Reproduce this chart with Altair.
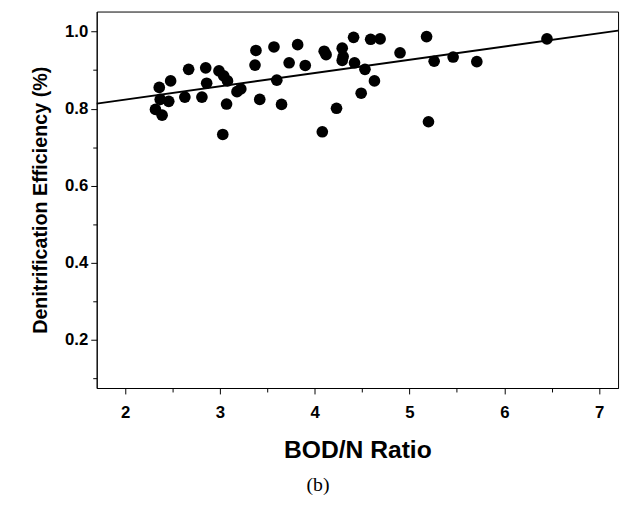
import altair as alt
import pandas as pd

# BOD/N ratio vs denitrification efficiency
bod_n = [2.36, 2.48, 2.67, 2.85, 2.99, 3.04, 3.08, 2.86, 2.37, 2.46, 2.63, 2.81,
         2.32, 2.39, 3.07, 3.03, 3.18, 3.22, 3.38, 3.57, 3.82, 4.10, 4.12, 4.29,
         4.30, 4.29, 3.37, 3.73, 3.90, 3.60, 3.42, 3.65, 4.23, 4.08, 4.41, 4.59,
         4.69, 5.18, 4.42, 4.53, 4.90, 5.26, 4.63, 4.49, 5.20, 5.46, 5.71, 6.45]
efficiency = [0.855, 0.872, 0.902, 0.906, 0.898, 0.885, 0.872, 0.866, 0.824, 0.819,
              0.830, 0.830, 0.798, 0.783, 0.812, 0.733, 0.844, 0.851, 0.951, 0.960,
              0.966, 0.949, 0.940, 0.957, 0.935, 0.925, 0.913, 0.919, 0.912, 0.874,
              0.824, 0.811, 0.801, 0.740, 0.985, 0.980, 0.981, 0.987, 0.919, 0.902,
              0.945, 0.923, 0.872, 0.840, 0.766, 0.934, 0.922, 0.981]

# fitted regression line endpoints
fit_x = [1.70, 7.20]
fit_y = [0.813, 1.0025]

x_ticks = [2, 2.5, 3, 3.5, 4, 4.5, 5, 5.5, 6, 6.5, 7]
y_ticks = [0.1, 0.2, 0.3, 0.4, 0.5, 0.6, 0.7, 0.8, 0.9, 1.0]

pts = pd.DataFrame({"x": bod_n, "y": efficiency})
fit = pd.DataFrame({"x": fit_x, "y": fit_y})

FONT = "Liberation Sans"

x_scale = alt.Scale(domain=[1.70, 7.20], nice=False, zero=False)
y_scale = alt.Scale(domain=[0.075, 1.052], nice=False, zero=False)

x_axis = alt.Axis(
    title="BOD/N Ratio", values=x_ticks, grid=False,
    labelExpr="datum.value % 1 === 0 ? format(datum.value, 'd') : ''",
    tickSize={"condition": {"test": "datum.value % 1 === 0", "value": 6}, "value": 4},
    labelPadding=11, titlePadding=18,
    labelFont=FONT, labelFontSize=17, labelFontWeight="bold", labelColor="black",
    titleFont=FONT, titleFontSize=25, titleFontWeight="bold", titleColor="black",
    domainColor="black", tickColor="black",
)
y_axis = alt.Axis(
    title="Denitrification Efficiency (%)", values=y_ticks, grid=False,
    labelExpr="round(datum.value * 10) % 2 === 0 ? format(datum.value, '.1f') : ''",
    tickSize={"condition": {"test": "round(datum.value * 10) % 2 === 0", "value": 6}, "value": 4},
    labelPadding=3, titlePadding=14,
    labelFont=FONT, labelFontSize=17, labelFontWeight="bold", labelColor="black",
    titleFont=FONT, titleFontSize=20, titleFontWeight="bold", titleColor="black",
    domainColor="black", tickColor="black",
)

points = alt.Chart(pts).mark_circle(size=140, color="black", opacity=1).encode(
    x=alt.X("x:Q", scale=x_scale, axis=x_axis),
    y=alt.Y("y:Q", scale=y_scale, axis=y_axis),
)

line = alt.Chart(fit).mark_line(color="black", strokeWidth=2).encode(
    x=alt.X("x:Q", scale=x_scale),
    y=alt.Y("y:Q", scale=y_scale),
)

chart = alt.layer(points, line).properties(
    width=529,
    height=382,
    padding={"left": 23, "top": 0, "right": 0, "bottom": 0},
    title=alt.TitleParams(
        "(b)", orient="bottom", anchor="middle", font="Liberation Serif",
        fontSize=20, fontWeight="normal", color="black", offset=12, dx=-40,
    ),
).configure_view(stroke="black", strokeWidth=1)

chart.save("out.html", embed_options={"renderer": "svg", "actions": False})
